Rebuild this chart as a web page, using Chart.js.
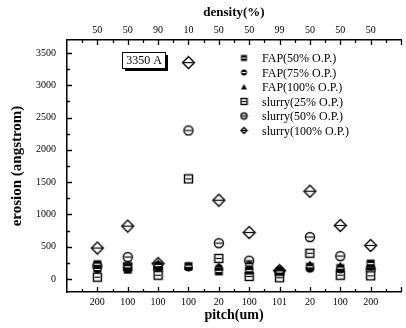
<!DOCTYPE html>
<html>
<head>
<meta charset="utf-8">
<script src="https://cdn.jsdelivr.net/npm/chart.js@4/dist/chart.umd.min.js"></script>
<style>
  html, body { margin: 0; padding: 0; background: #fff; }
  #wrap { width: 406px; height: 328px; }
</style>
</head>
<body>
<div id="wrap"><canvas id="chart" width="406" height="328"></canvas></div>
<script>
// categories (bottom = pitch, top = density)
const pitch = ["200", "100", "100", "100", "20", "100", "101", "20", "100", "200"];
const density = ["50", "50", "90", "10", "50", "50", "99", "50", "50", "50"];

// erosion (angstrom)
const fap50 = [230, 190, 210, 200, 120, 130, 110, 190, 170, 240];
const fap75 = [150, 150, 170, 180, 170, 220, 140, 160, 150, 190];
const fap100 = [170, 140, 240, 200, 190, 190, 130, 220, 200, 200];
const slurry25 = [30, 190, 60, 1550, 320, 40, 20, 400, 60, 50];
const slurry50 = [200, 340, 160, 2300, 555, 285, 90, 650, 355, 150];
const slurry100 = [480, 820, 240, 3350, 1220, 720, 130, 1360, 830, 520];

const yTicks = [0, 500, 1000, 1500, 2000, 2500, 3000, 3500];

const SERIF = "'Liberation Serif', 'DejaVu Serif', serif";

const marker = (kind, s) => {
  const c = document.createElement("canvas");
  c.width = c.height = s + 3;
  const ctx = c.getContext("2d");
  const m = (s + 3) / 2, r = s / 2;
  ctx.lineWidth = 1.4;
  ctx.strokeStyle = "#000";
  ctx.fillStyle = "#000";
  const bar = (col) => { ctx.strokeStyle = col; ctx.lineWidth = 1.2; ctx.beginPath(); ctx.moveTo(m - r + 1, m); ctx.lineTo(m + r - 1, m); ctx.stroke(); };
  if (kind === "fsquare") { ctx.fillRect(m - r, m - r, s, s); bar("#fff"); }
  if (kind === "fcircle") { ctx.beginPath(); ctx.arc(m, m, r, 0, Math.PI * 2); ctx.fill(); bar("#fff"); }
  if (kind === "ftri") { ctx.beginPath(); ctx.moveTo(m, m - r); ctx.lineTo(m + r, m + r * 0.8); ctx.lineTo(m - r, m + r * 0.8); ctx.closePath(); ctx.fill(); }
  if (kind === "osquare") { ctx.fillStyle = "#fff"; ctx.fillRect(m - r, m - r, s, s); ctx.strokeRect(m - r, m - r, s, s); bar("#000"); }
  if (kind === "ocircle") { ctx.fillStyle = "#fff"; ctx.beginPath(); ctx.arc(m, m, r, 0, Math.PI * 2); ctx.fill(); ctx.stroke(); bar("#000"); }
  if (kind === "odiamond") { ctx.fillStyle = "#fff"; ctx.beginPath(); ctx.moveTo(m, m - r); ctx.lineTo(m + r, m); ctx.lineTo(m, m + r); ctx.lineTo(m - r, m); ctx.closePath(); ctx.fill(); ctx.stroke(); bar("#000"); }
  return c;
};

const series = [
  { label: "FAP(50% O.P.)", data: fap50, kind: "fsquare", size: 8 },
  { label: "FAP(75% O.P.)", data: fap75, kind: "fcircle", size: 8 },
  { label: "FAP(100% O.P.)", data: fap100, kind: "ftri", size: 9 },
  { label: "slurry(25% O.P.)", data: slurry25, kind: "osquare", size: 8 },
  { label: "slurry(50% O.P.)", data: slurry50, kind: "ocircle", size: 9 },
  { label: "slurry(100% O.P.)", data: slurry100, kind: "odiamond", size: 12 },
];

const datasets = series.map((s) => ({
  label: s.label,
  data: s.data.map((y, i) => ({ x: i + 1, y })),
  showLine: false,
  pointStyle: marker(s.kind, s.size),
  legendIcon: marker(s.kind, 6),
}));

const axesPlugin = {
  id: "axesTicks",
  afterDraw(chart) {
    const { ctx, chartArea: a, scales } = chart;
    ctx.save();
    ctx.strokeStyle = "#000";
    ctx.lineWidth = 1.3;
    const y = scales.y, x = scales.x;
    ctx.beginPath();
    for (let v = 0; v <= 3500; v += 250) {
      const py = Math.round(y.getPixelForValue(v)) + 0.5;
      ctx.moveTo(a.left, py);
      ctx.lineTo(a.left + (v % 500 === 0 ? 5 : 3), py);
    }
    for (let v = 0.5; v <= 11; v += 0.5) {
      const px = Math.round(x.getPixelForValue(v)) + 0.5;
      const len = Number.isInteger(v) ? 5 : 3;
      ctx.moveTo(px, a.bottom); ctx.lineTo(px, a.bottom - len);
      ctx.moveTo(px, a.top); ctx.lineTo(px, a.top + len);
    }
    ctx.stroke();

    // annotation box with drop shadow
    const bx = 122, by = 52, bw = 43, bh = 16;
    ctx.fillStyle = "#000";
    ctx.fillRect(bx + 3, by + 3, bw, bh);
    ctx.fillStyle = "#fff";
    ctx.fillRect(bx, by, bw, bh);
    ctx.lineWidth = 1;
    ctx.strokeRect(bx + 0.5, by + 0.5, bw, bh);
    ctx.fillStyle = "#000";
    ctx.font = `12px ${SERIF}`;
    ctx.textAlign = "center";
    ctx.textBaseline = "middle";
    ctx.fillText("3350 A", bx + bw / 2 + 0.5, by + bh / 2 + 1);

    // legend
    ctx.textAlign = "left";
    ctx.font = `12px ${SERIF}`;
    chart.data.datasets.forEach((ds, i) => {
      const ly = 58 + i * 14.5;
      const ic = ds.legendIcon;
      ctx.drawImage(ic, 244 - ic.width / 2, ly - ic.height / 2);
      ctx.fillText(ds.label, 262, ly + 1);
    });
    ctx.restore();
  },
};

document.addEventListener("DOMContentLoaded", () => {
  const canvas = document.getElementById("chart");
  new Chart(canvas, {
    type: "scatter",
    data: { datasets },
    options: {
      responsive: false,
      animation: false,
      events: [],
      layout: { padding: { left: 0, right: 1, top: 0, bottom: 0 } },
      plugins: { legend: { display: false }, tooltip: { enabled: false } },
      scales: {
        x: {
          type: "linear", position: "bottom", min: 0, max: 11,
          grid: { display: false, drawTicks: false },
          border: { display: true, color: "#000", width: 1.5 },
          afterBuildTicks: (s) => { s.ticks = pitch.map((_, i) => ({ value: i + 1 })); },
          afterFit: (s) => { s.height = 36; },
          ticks: { color: "#000", padding: 4, maxRotation: 0, autoSkip: false, font: { family: SERIF, size: 10 }, callback: (v) => pitch[v - 1] },
          title: { display: true, text: "pitch(um)", color: "#000", padding: { top: 0, bottom: 4 }, font: { family: SERIF, size: 14, weight: "bold" } },
        },
        x2: {
          type: "linear", position: "top", min: 0, max: 11,
          grid: { display: false, drawTicks: false },
          border: { display: true, color: "#000", width: 1.5 },
          afterBuildTicks: (s) => { s.ticks = density.map((_, i) => ({ value: i + 1 })); },
          afterFit: (s) => { s.height = 40; },
          ticks: { color: "#000", padding: 4, maxRotation: 0, autoSkip: false, font: { family: SERIF, size: 10 }, callback: (v) => density[v - 1] },
          title: { display: true, text: "density(%)", color: "#000", padding: { top: 5, bottom: 0 }, font: { family: SERIF, size: 13, weight: "bold" } },
        },
        y: {
          type: "linear", position: "left", min: -200, max: 3700,
          grid: { display: false, drawTicks: false },
          border: { display: true, color: "#000", width: 1.5 },
          afterBuildTicks: (s) => { s.ticks = yTicks.map((v) => ({ value: v })); },
          afterFit: (s) => { s.width = 67; },
          ticks: { color: "#000", padding: 11, font: { family: SERIF, size: 10 }, callback: (v) => String(v) },
          title: { display: true, text: "erosion (angstrom)", color: "#000", padding: { top: 8, bottom: 0 }, font: { family: SERIF, size: 15, weight: "bold" } },
        },
      },
    },
    plugins: [axesPlugin],
  });
});
</script>
</body>
</html>
